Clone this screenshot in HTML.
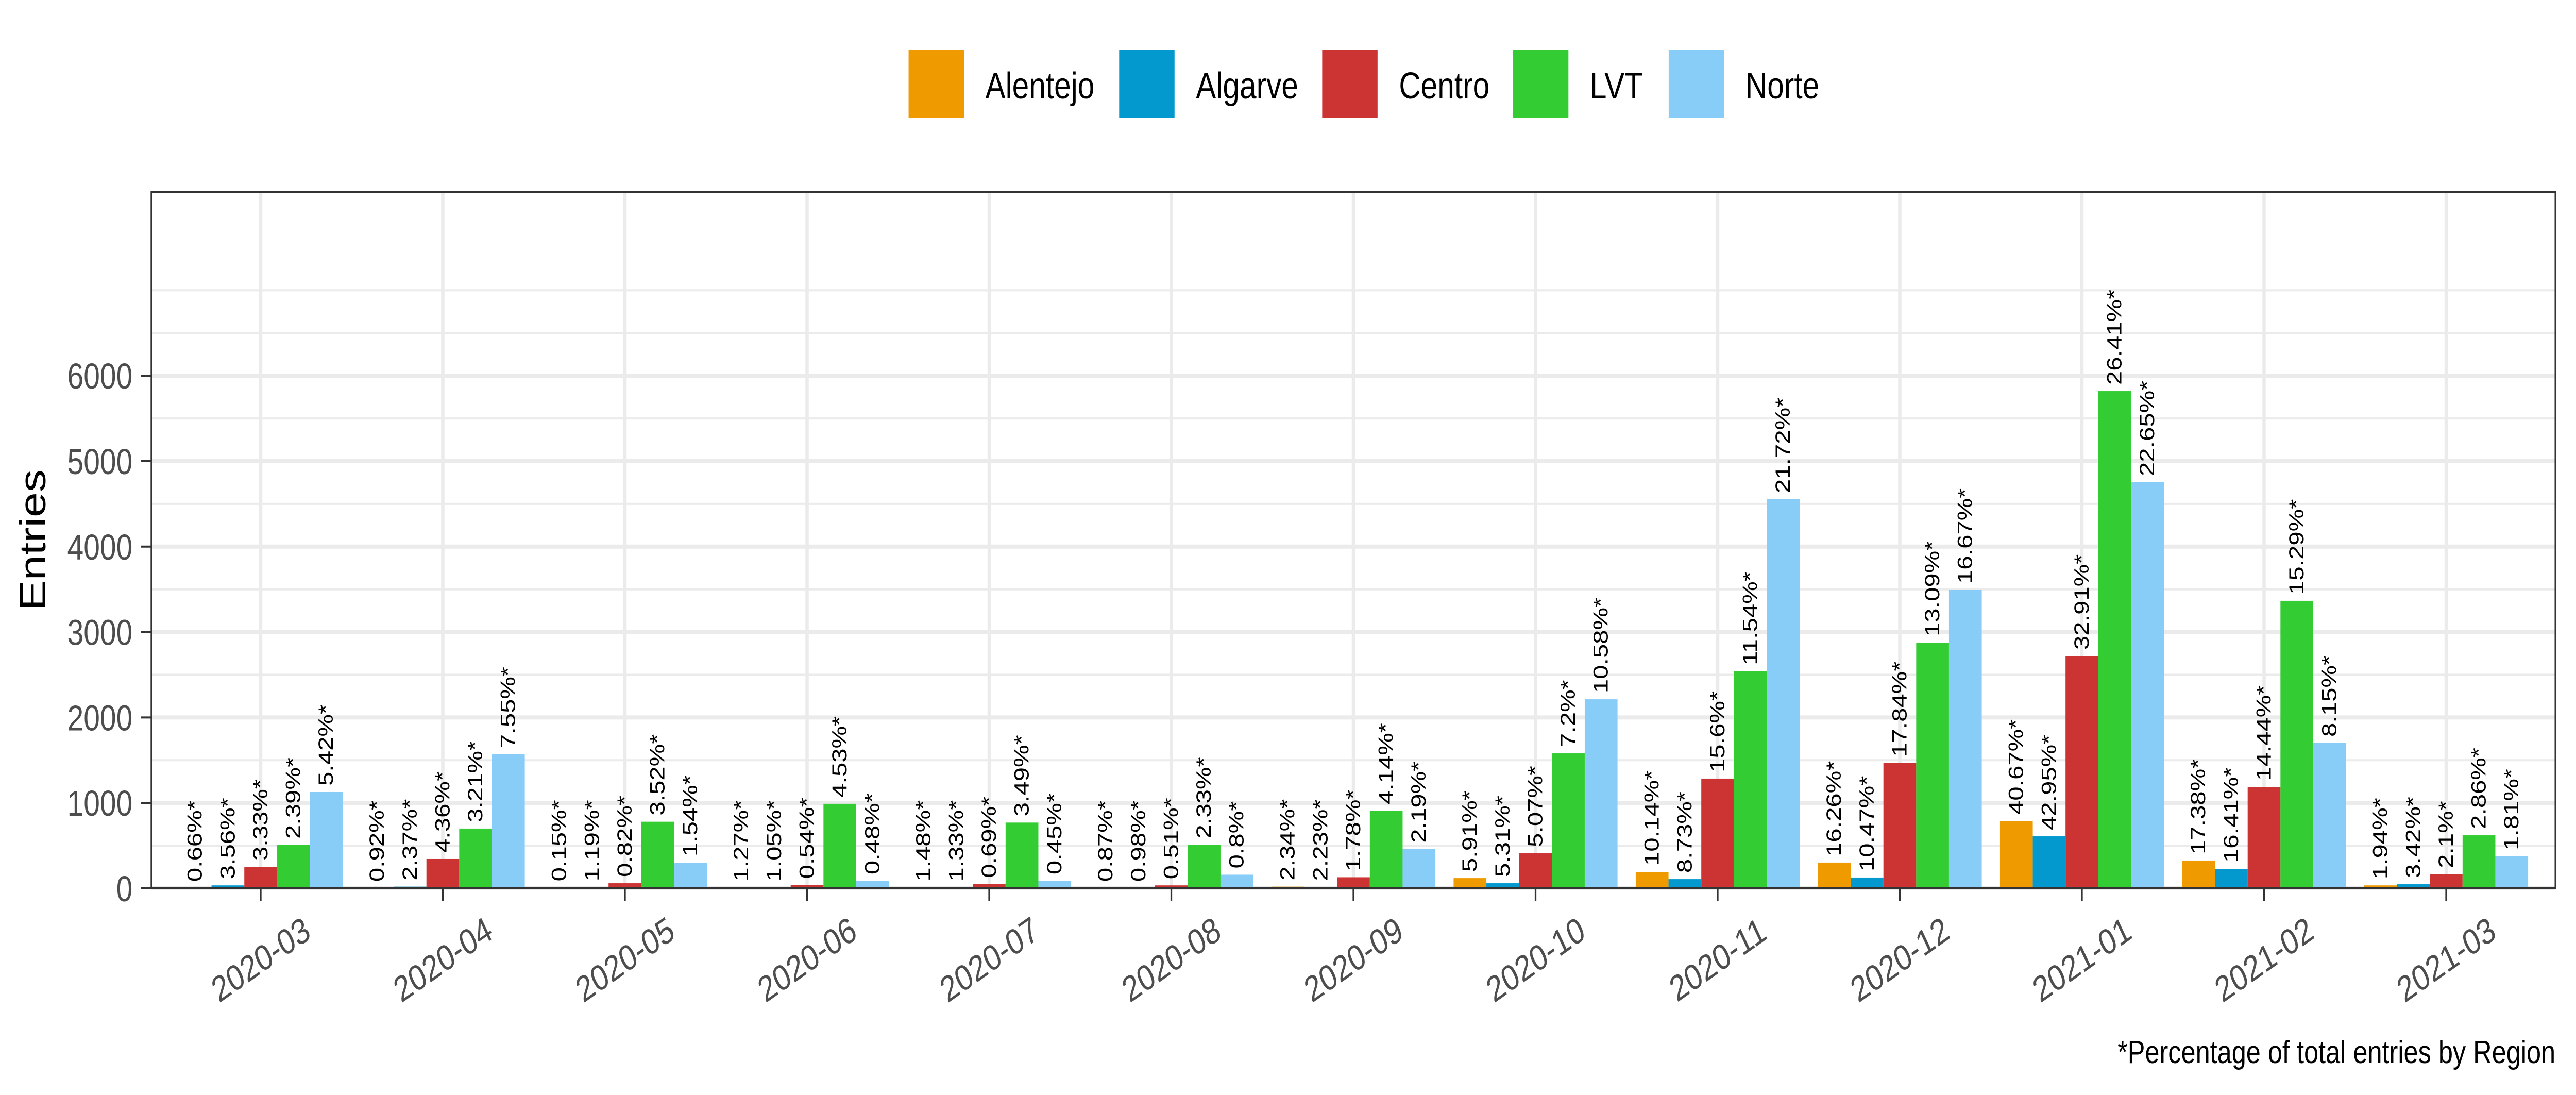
<!DOCTYPE html>
<html><head><meta charset="utf-8"><style>
html,body{margin:0;padding:0;background:#fff;width:100vw;height:100vh;overflow:hidden;}
svg{display:block;width:100vw;height:100vh;font-family:"Liberation Sans",Arial,sans-serif;}
</style></head><body>
<svg id="chart" viewBox="0 0 6141 2125" preserveAspectRatio="none" xmlns="http://www.w3.org/2000/svg">
<rect width="6141" height="2125" fill="#fff"/>
<g id="legend"></g>
<g id="grid"></g>
<g id="bars"></g>
<g id="labels"></g>
<rect x="361" y="372" width="5731" height="1352" fill="none" stroke="#333" stroke-width="4"/>
<g id="axes"></g>
<text transform="translate(108,1048) rotate(-90)" text-anchor="middle" font-size="88" fill="#000">Entries</text>
<text x="6092" y="2063" text-anchor="end" font-size="62" fill="#000">*Percentage of total entries by Region</text>
</svg>
<script>
const categories = ["2020-03","2020-04","2020-05","2020-06","2020-07","2020-08","2020-09","2020-10","2020-11","2020-12","2021-01","2021-02","2021-03"];
const seriesNames = ["Alentejo","Algarve","Centro","LVT","Norte"];
const seriesColors = ["#ef9b00","#0399cf","#cc3333","#33cc33","#88ccf8"];
const alentejo = [5,5,10,8,8,5,20,120,193,302,790,326,35];
const algarve = [35,20,10,8,8,5,15,60,108,127,609,229,48];
const centro = [253,344,60,40,50,35,130,410,1285,1466,2720,1188,163];
const lvt = [507,700,780,990,770,510,910,1580,2540,2877,5820,3366,621];
const norte = [1128,1568,300,90,90,160,460,2213,4554,3492,4753,1701,374];
const pctAlentejo = ["0.66%*","0.92%*","0.15%*","1.27%*","1.48%*","0.87%*","2.34%*","5.91%*","10.14%*","16.26%*","40.67%*","17.38%*","1.94%*"];
const pctAlgarve = ["3.56%*","2.37%*","1.19%*","1.05%*","1.33%*","0.98%*","2.23%*","5.31%*","8.73%*","10.47%*","42.95%*","16.41%*","3.42%*"];
const pctCentro = ["3.33%*","4.36%*","0.82%*","0.54%*","0.69%*","0.51%*","1.78%*","5.07%*","15.6%*","17.84%*","32.91%*","14.44%*","2.1%*"];
const pctLvt = ["2.39%*","3.21%*","3.52%*","4.53%*","3.49%*","2.33%*","4.14%*","7.2%*","11.54%*","13.09%*","26.41%*","15.29%*","2.86%*"];
const pctNorte = ["5.42%*","7.55%*","1.54%*","0.48%*","0.45%*","0.8%*","2.19%*","10.58%*","21.72%*","16.67%*","22.65%*","8.15%*","1.81%*"];
const yTicks = [0,1000,2000,3000,4000,5000,6000];
const yGrid = [500,1500,2500,3500,4500,5500,6500,7000];

const series = [alentejo,algarve,centro,lvt,norte];
const pcts = [pctAlentejo,pctAlgarve,pctCentro,pctLvt,pctNorte];
const NS="http://www.w3.org/2000/svg";
const L=361,R=6092,T=372,B=1724;
const band=(R-L)/(categories.length+0.2);
function y(v){return B-v/1000*165.8;}
function xc(i){return L+band*(i+0.6);}
function mk(tag,attrs,parent){const e=document.createElementNS(NS,tag);for(const k in attrs)e.setAttribute(k,attrs[k]);parent.appendChild(e);return e;}
const grid=document.getElementById('grid'),bars=document.getElementById('bars'),labels=document.getElementById('labels'),axes=document.getElementById('axes'),legend=document.getElementById('legend');
yGrid.forEach(v=>{const l=mk('line',{x1:L,x2:R,y1:y(v),y2:y(v),stroke:'#ebebeb','stroke-width':4},grid);

});
yTicks.forEach(v=>{const l=mk('line',{x1:L,x2:R,y1:y(v),y2:y(v),stroke:'#ebebeb','stroke-width':8},grid);


const t=mk('line',{x1:336,x2:361,y1:y(v),y2:y(v),stroke:'#333','stroke-width':4},axes);


const tx=mk('text',{x:316,y:y(v)+25,'text-anchor':'end','font-size':70,fill:'#4d4d4d'},axes);tx.textContent=v;

});
categories.forEach((c,i)=>{const x=xc(i);
const g=mk('line',{x1:x,x2:x,y1:T,y2:B,stroke:'#ebebeb','stroke-width':8},grid);


const t=mk('line',{x1:x,x2:x,y1:B,y2:B+25,stroke:'#333','stroke-width':4},axes);


const tx=mk('text',{transform:`translate(${x},1862) rotate(-30)`,'text-anchor':'middle','dominant-baseline':'central','font-size':70,fill:'#4d4d4d'},axes);tx.textContent=c;


const bw=band*0.18;
series.forEach((s,k)=>{const bx=x-band*0.45+k*bw;const top=y(s[i]);
const r=mk('rect',{x:bx,y:top,width:bw,height:B-top,fill:seriesColors[k]},bars);


const lb=mk('text',{transform:`translate(${bx+bw/2},${top-12}) rotate(-90)`,'text-anchor':'start','dominant-baseline':'central','font-size':49,fill:'#000'},labels);lb.textContent=pcts[k][i];

});});
const keyX=[2166,2668,3152,3607,3978];
seriesNames.forEach((n,k)=>{const r=mk('rect',{x:keyX[k],y:97,width:132,height:132,fill:seriesColors[k]},legend);


const t=mk('text',{x:keyX[k]+183,y:191,'font-size':72,fill:'#000'},legend);t.textContent=n;

});
</script>
</body></html>
